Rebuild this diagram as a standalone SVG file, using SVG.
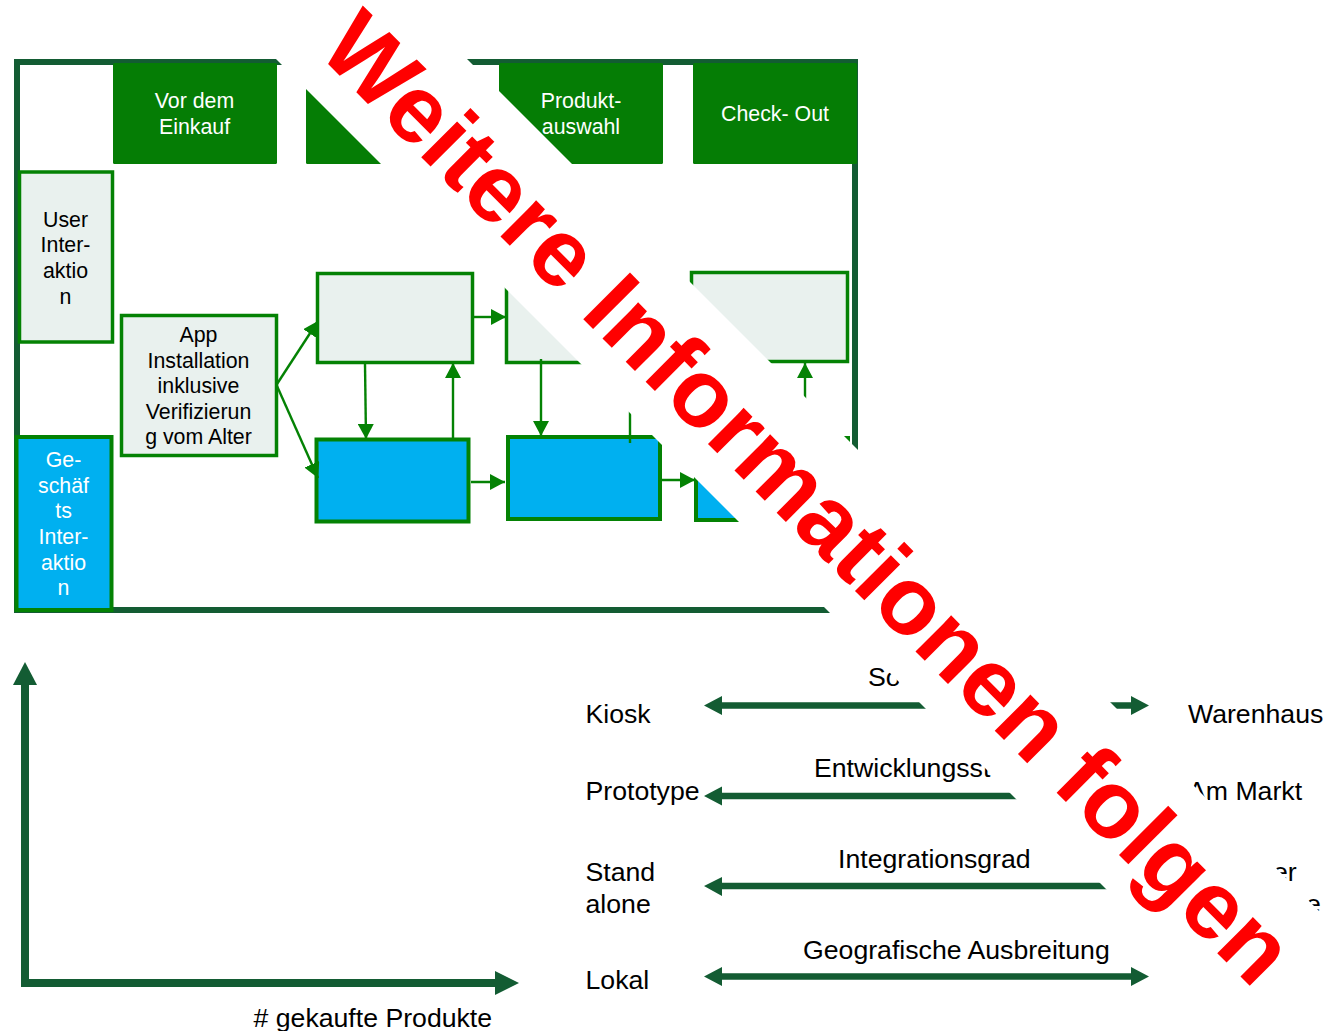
<svg xmlns="http://www.w3.org/2000/svg" width="1340" height="1031" viewBox="0 0 1340 1031">
<style>
text{font-family:"Liberation Sans",Arial,sans-serif;fill:#000}
.b{font-size:21.33px;text-anchor:middle}
.w{fill:#fff}
.l{font-size:26.67px}
.h{fill:#057d05}
.g{fill:#e9f1ee;stroke:#048204;stroke-width:3.5}
.c{fill:#00b0f0;stroke:#048204;stroke-width:4}
.e{fill:none;stroke:#048204;stroke-width:2.4;marker-end:url(#a)}
.n{fill:none;stroke:#048204;stroke-width:2.4}
.d{stroke:#135c33;stroke-width:6;fill:none}
.x{stroke:#135c33;stroke-width:8;fill:none}
.s{stroke:#135c33;stroke-width:6.500;fill:none}
.dh{fill:#135c33}
</style>
<defs>
<marker id="a" markerUnits="userSpaceOnUse" markerWidth="16" markerHeight="16" refX="15" refY="8" orient="auto"><path d="M0,0L15,8L0,16z" fill="#048204"/></marker>
</defs>
<rect width="1340" height="1031" fill="#fff"/>
<rect id="frame" x="17" y="62" width="838" height="548" class="d"/>
<g id="head1"><rect x="113" y="63" width="164" height="101" rx="1.5" class="h"/><text class="b w" x="194.500" y="108">Vor dem</text><text class="b w" x="194.500" y="134">Einkauf</text></g>
<g id="head2"><rect x="306" y="63" width="164" height="101" rx="1.5" class="h"/></g>
<g id="head3"><rect x="499" y="63" width="164" height="101" rx="1.500" class="h"/><text class="b w" x="581" y="108">Produkt-</text><text class="b w" x="581" y="134">auswahl</text></g>
<g id="head4"><rect x="693" y="63" width="164" height="101" rx="1.500" class="h"/><text class="b w" x="775" y="121">Check- Out</text></g>
<g id="user"><rect x="19.500" y="172" width="93" height="170" class="g"/><text class="b" x="65.500" y="227">User</text><text class="b" x="65.500" y="252">Inter-</text><text class="b" x="65.500" y="278">aktio</text><text class="b" x="65.500" y="304">n</text></g>
<g id="business"><rect x="16.500" y="437" width="95" height="173" class="c"/><text class="b w" x="63.500" y="467">Ge-</text><text class="b w" x="63.500" y="493">schäf</text><text class="b w" x="63.500" y="518">ts</text><text class="b w" x="63.500" y="544">Inter-</text><text class="b w" x="63.500" y="570">aktio</text><text class="b w" x="63.500" y="595">n</text></g>
<g id="app"><rect x="121.500" y="315.500" width="155" height="140" class="g"/><text class="b" x="198.500" y="342">App</text><text class="b" x="198.500" y="368">Installation</text><text class="b" x="198.500" y="393">inklusive</text><text class="b" x="198.500" y="419">Verifizierun</text><text class="b" x="198.500" y="444">g vom Alter</text></g>
<g id="u1"><rect x="317.500" y="273.500" width="155" height="89" class="g"/></g>
<g id="u2"><rect x="506.500" y="273.500" width="155" height="89" class="g"/></g>
<g id="u3"><rect x="691.500" y="272.500" width="156" height="89" class="g"/></g>
<g id="b1"><rect x="316.500" y="439.500" width="152" height="82" class="c"/></g>
<g id="b2"><rect x="508" y="437" width="152" height="82" class="c"/></g>
<g id="b3"><rect x="696" y="438" width="152" height="82" class="c"/></g>
<g id="connectors">
<path class="e" d="M277,384L318,321"/>
<path class="e" d="M277,386L318,478"/>
<path class="e" d="M365,364L366,439"/>
<path class="e" d="M453,438L453,363"/>
<path class="e" d="M474,317L506,317"/>
<path class="e" d="M541,359L541,436"/>
<path class="n" d="M630,443L630,400"/>
<path class="e" d="M805,440L805,363"/>
<path class="e" d="M471,482L505,482"/>
<path class="e" d="M662,480L695,480"/>
<path class="x" d="M25,680V983M21,983H500"/>
<path class="dh" d="M25,662L37,685H13z"/>
<path class="dh" d="M519,983L495,971V995z"/>
<g id="scales">
<path class="s" d="M718,705.500H1135M718,796H1135M718,886H1135M718,976.500H1135"/>
<path class="dh" d="M704,705.500L722,696V715zM1149,705.500L1131,696V715zM704,796L722,786.500V805.500zM704,886L722,877V896zM704,976.500L722,967V986zM1149,976.500L1131,967V986z"/>
</g>
</g>
<g id="labels">
<text class="l" x="585.500" y="723">Kiosk</text>
<text class="l" x="585.500" y="800">Prototype</text>
<text class="l" x="585.500" y="881">Stand</text>
<text class="l" x="585.500" y="913">alone</text>
<text class="l" x="585.500" y="989">Lokal</text>
<text class="l" x="1188" y="723">Warenhaus</text>
<text class="l" x="1188" y="800">Am Markt</text>
<text class="l" x="1273" y="881">er</text>
<text class="l" x="1306" y="913">e</text>
<text class="l" x="868" y="686">So</text>
<text class="l" x="814" y="777">Entwicklungsst</text>
<text class="l" x="838" y="868">Integrationsgrad</text>
<text class="l" x="803" y="959">Geografische Ausbreitung</text>
<text class="l" x="253.500" y="1027"># gekaufte Produkte</text>
</g>
<g id="overlay">
<path d="M217,0H408L1340,932V1031H1248z" fill="#fff"/>
<text x="316" y="52" transform="rotate(45 316 52)" style="font-size:96px;font-weight:700;fill:#f00">Weitere Informationen folgen</text>
</g>
</svg>
